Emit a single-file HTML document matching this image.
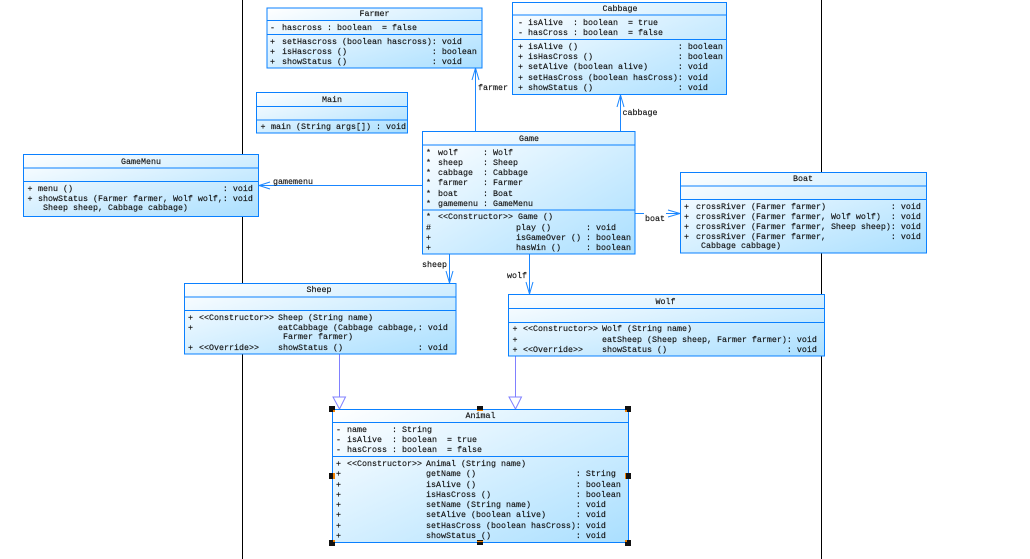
<!DOCTYPE html>
<html><head><meta charset="utf-8">
<style>
html,body{margin:0;padding:0;background:#fff;width:1030px;height:559px;overflow:hidden}
svg{display:block}
text{font-family:"Liberation Mono",monospace;font-size:8.33px;fill:#111;stroke:#111;stroke-width:.15;white-space:pre}
.t{text-anchor:middle}
.b{fill:url(#g);stroke:#0a80ff;stroke-width:1}
.d{stroke:#0a80ff;stroke-width:1;fill:none}
.c{stroke:#1a86ff;stroke-width:1;fill:none}
.i{stroke:#8080ff;stroke-width:1;fill:#fff}
.h{fill:#111}
.o{fill:#f08000}
</style></head><body>
<svg width="1030" height="559" viewBox="0 0 1030 559" xmlns="http://www.w3.org/2000/svg" xml:space="preserve">
<defs><linearGradient id="g" x1="0" y1="0" x2="1" y2="1"><stop offset="0" stop-color="#ffffff"/><stop offset="1" stop-color="#aadfff"/></linearGradient></defs>
<path d="M242.5 0V559M821.5 0V559" stroke="#000" stroke-width="1" fill="none"/>

<!-- Connectors -->
<path class="c" d="M475.5 131V68M472 80L475.5 68L479 80"/>
<text x="478" y="90">farmer</text>
<path class="c" d="M620.5 131V95M617 107L620.5 95L624 107"/>
<text x="622.5" y="115">cabbage</text>
<path class="c" d="M422 185.5H259M270 182L259 185.500L270 189"/>
<text x="273" y="184">gamemenu</text>
<path class="c" d="M635 213.500H644M666 213.500H680M668 210L680 213.500L668 217"/>
<text x="645" y="221">boat</text>
<path class="c" d="M449.500 254V283M446 271L449.500 283L453 271"/>
<text x="422" y="267">sheep</text>
<path class="c" d="M529.500 254V294M526 282L529.500 294L533 282"/>
<text x="507" y="278">wolf</text>
<path class="i" d="M339.500 354V397" fill="none"/>
<path class="i" d="M333 397H345.500L339.500 409Z"/>
<path class="i" d="M515.500 356V397" fill="none"/>
<path class="i" d="M509 397H521.500L515.500 409Z"/>

<!-- Farmer -->
<rect class="b" x="267" y="8" width="215" height="60"/>
<path class="d" d="M267 20.500H482M267 34.500H482"/>
<text class="t" x="374.500" y="16">Farmer</text>
<text x="270" y="30">-</text><text x="282" y="30">hascross : boolean  = false</text>
<text x="270" y="44">+</text><text x="282" y="44">setHascross (boolean hascross): void</text>
<text x="270" y="54">+</text><text x="282" y="54">isHascross ()                 : boolean</text>
<text x="270" y="64">+</text><text x="282" y="64">showStatus ()                 : void</text>

<!-- Main -->
<rect class="b" x="256.500" y="92.500" width="151" height="40.500"/>
<path class="d" d="M256.500 106.500H407.500M256.500 120H407.500"/>
<text class="t" x="332" y="102">Main</text>
<text x="260.500" y="129">+</text><text x="271" y="129">main (String args[]) : void</text>

<!-- Cabbage -->
<rect class="b" x="512.500" y="2.500" width="214" height="92"/>
<path class="d" d="M512.500 15H726.500M512.500 39.500H726.500"/>
<text class="t" x="620" y="11">Cabbage</text>
<text x="518" y="25">-</text><text x="528" y="25">isAlive  : boolean  = true</text>
<text x="518" y="35">-</text><text x="528" y="35">hasCross : boolean  = false</text>
<text x="518" y="49">+</text><text x="528" y="49">isAlive ()                    : boolean</text>
<text x="518" y="59">+</text><text x="528" y="59">isHasCross ()                 : boolean</text>
<text x="518" y="69">+</text><text x="528" y="69">setAlive (boolean alive)      : void</text>
<text x="518" y="80">+</text><text x="528" y="80">setHasCross (boolean hasCross): void</text>
<text x="518" y="90">+</text><text x="528" y="90">showStatus ()                 : void</text>

<!-- Game -->
<rect class="b" x="422.500" y="131.500" width="212.500" height="122.500"/>
<path class="d" d="M422.500 145H635M422.500 210H635"/>
<text class="t" x="529" y="141">Game</text>
<text x="426" y="155">*</text><text x="438" y="155">wolf     : Wolf</text>
<text x="426" y="165">*</text><text x="438" y="165">sheep    : Sheep</text>
<text x="426" y="175">*</text><text x="438" y="175">cabbage  : Cabbage</text>
<text x="426" y="185">*</text><text x="438" y="185">farmer   : Farmer</text>
<text x="426" y="196">*</text><text x="438" y="196">boat     : Boat</text>
<text x="426" y="206">*</text><text x="438" y="206">gamemenu : GameMenu</text>
<text x="426" y="219">*</text><text x="438" y="219">&lt;&lt;Constructor&gt;&gt; Game ()</text>
<text x="426" y="230">#</text><text x="516" y="230">play ()       : void</text>
<text x="426" y="240">+</text><text x="516" y="240">isGameOver () : boolean</text>
<text x="426" y="250">+</text><text x="516" y="250">hasWin ()     : boolean</text>

<!-- GameMenu -->
<rect class="b" x="23.500" y="154.500" width="235" height="62"/>
<path class="d" d="M23.500 168H258.500M23.500 181.500H258.500"/>
<text class="t" x="141" y="164">GameMenu</text>
<text x="27.500" y="191">+</text><text x="38" y="191">menu ()                              : void</text>
<text x="27.500" y="201">+</text><text x="38" y="201">showStatus (Farmer farmer, Wolf wolf,: void</text>
<text x="43" y="210">Sheep sheep, Cabbage cabbage)</text>

<!-- Boat -->
<rect class="b" x="680.500" y="172.500" width="246" height="80.500"/>
<path class="d" d="M680.500 186H926.500M680.500 199.500H926.500"/>
<text class="t" x="803" y="181">Boat</text>
<text x="684" y="209">+</text><text x="696" y="209">crossRiver (Farmer farmer)             : void</text>
<text x="684" y="219">+</text><text x="696" y="219">crossRiver (Farmer farmer, Wolf wolf)  : void</text>
<text x="684" y="229">+</text><text x="696" y="229">crossRiver (Farmer farmer, Sheep sheep): void</text>
<text x="684" y="239">+</text><text x="696" y="239">crossRiver (Farmer farmer,             : void</text>
<text x="701" y="248">Cabbage cabbage)</text>

<!-- Sheep -->
<rect class="b" x="184.500" y="283.500" width="271.500" height="70.500"/>
<path class="d" d="M184.500 297H456M184.500 310.500H456"/>
<text class="t" x="319" y="292">Sheep</text>
<text x="188" y="320">+</text><text x="199" y="320">&lt;&lt;Constructor&gt;&gt;</text><text x="278" y="320">Sheep (String name)</text>
<text x="188" y="330">+</text><text x="278" y="330">eatCabbage (Cabbage cabbage,: void</text>
<text x="283" y="339">Farmer farmer)</text>
<text x="188" y="350">+</text><text x="199" y="350">&lt;&lt;Override&gt;&gt;</text><text x="278" y="350">showStatus ()               : void</text>

<!-- Wolf -->
<rect class="b" x="508.500" y="294.500" width="316" height="61.500"/>
<path class="d" d="M508.500 308.500H824.500M508.500 322.500H824.500"/>
<text class="t" x="665.500" y="304">Wolf</text>
<text x="512.500" y="331">+</text><text x="523" y="331">&lt;&lt;Constructor&gt;&gt;</text><text x="602" y="331">Wolf (String name)</text>
<text x="512.500" y="342">+</text><text x="602" y="342">eatSheep (Sheep sheep, Farmer farmer): void</text>
<text x="512.500" y="352">+</text><text x="523" y="352">&lt;&lt;Override&gt;&gt;</text><text x="602" y="352">showStatus ()                        : void</text>

<!-- Animal -->
<rect class="b" x="332.500" y="409.500" width="296" height="133"/>
<path class="d" d="M332.500 422.500H628.500M332.500 456.500H628.500"/>
<text class="t" x="480.500" y="418">Animal</text>
<text x="336" y="432">-</text><text x="347" y="432">name     : String</text>
<text x="336" y="442">-</text><text x="347" y="442">isAlive  : boolean  = true</text>
<text x="336" y="452">-</text><text x="347" y="452">hasCross : boolean  = false</text>
<text x="336" y="466">+</text><text x="347" y="466">&lt;&lt;Constructor&gt;&gt;</text><text x="426" y="466">Animal (String name)</text>
<text x="336" y="476">+</text><text x="426" y="476">getName ()                    : String</text>
<text x="336" y="487">+</text><text x="426" y="487">isAlive ()                    : boolean</text>
<text x="336" y="497">+</text><text x="426" y="497">isHasCross ()                 : boolean</text>
<text x="336" y="507">+</text><text x="426" y="507">setName (String name)         : void</text>
<text x="336" y="517">+</text><text x="426" y="517">setAlive (boolean alive)      : void</text>
<text x="336" y="528">+</text><text x="426" y="528">setHasCross (boolean hasCross): void</text>
<text x="336" y="538">+</text><text x="426" y="538">showStatus ()                 : void</text>

<!-- Selection handles -->
<rect class="h" x="329" y="406" width="6" height="6"/><rect class="o" x="333" y="410" width="2" height="2"/>
<rect class="h" x="477" y="406" width="6" height="5"/><rect class="o" x="477" y="410" width="6" height="1"/>
<rect class="h" x="625" y="406" width="6" height="6"/><rect class="o" x="625" y="410" width="2" height="2"/>
<rect class="h" x="329" y="473" width="6" height="6"/><rect class="o" x="333" y="473" width="2" height="6"/>
<rect class="h" x="625" y="473" width="6" height="6"/><rect class="o" x="625" y="473" width="1" height="6"/>
<rect class="h" x="329" y="540" width="6" height="6"/><rect class="o" x="333" y="540" width="2" height="2"/>
<rect class="h" x="477" y="540" width="6" height="5"/><rect class="o" x="477" y="541" width="6" height="1"/>
<rect class="h" x="625" y="540" width="6" height="6"/><rect class="o" x="625" y="540" width="2" height="2"/>
</svg>
</body></html>
